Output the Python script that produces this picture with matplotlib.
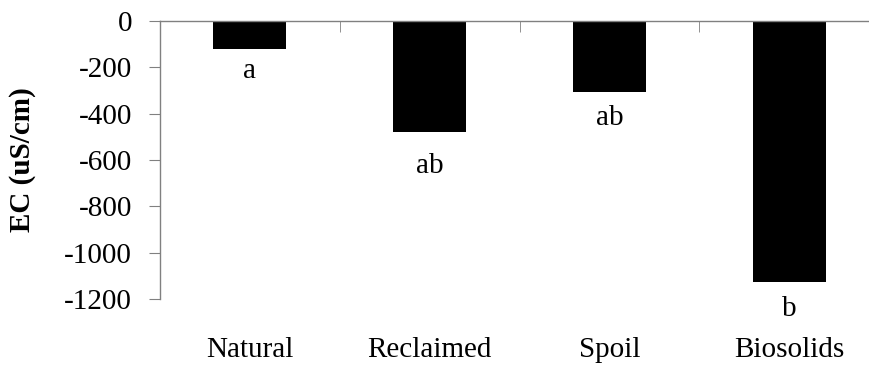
import matplotlib.pyplot as plt

sites = ["Natural", "Reclaimed", "Spoil", "Biosolids"]
ec_change = [-120, -480, -305, -1125]
groups = ["a", "ab", "ab", "b"]
y_ticks = [0, -200, -400, -600, -800, -1000, -1200]

# baseline drop (points) of each letter below its bar
letter_drop = [21, 29.5, 24, 25]

plt.rcParams['font.family'] = ['Liberation Serif', 'DejaVu Serif']
plt.rcParams['axes.unicode_minus'] = False

fig = plt.figure(figsize=(8.69, 3.68), dpi=100)
ax = fig.add_axes([160 / 869, 69 / 368, 719 / 869, 278 / 368])

x = range(len(sites))
ax.bar(x, ec_change, width=0.405, color='black')

# significance letters under each bar
for i, (v, g) in enumerate(zip(ec_change, groups)):
    ax.annotate(g, (i, v), xytext=(0, -letter_drop[i]), textcoords='offset points',
                ha='center', va='baseline', fontsize=21)

ax.set_xlim(-0.5, 3.5)
ax.set_ylim(-1200, 0)
ax.set_yticks(y_ticks)
ax.set_yticklabels([str(t) for t in y_ticks], fontsize=21)

ax.set_xticks(list(x))
ax.set_xticklabels(sites, fontsize=21)
ax.set_xticks([0.5, 1.5, 2.5], minor=True)
ax.tick_params(axis='x', which='major', length=0, pad=27.5)
ax.tick_params(axis='x', which='minor', bottom=False, top=True,
               direction='in', length=8, color='#808080')
ax.tick_params(axis='y', length=8, color='#808080', pad=12)

for side in ['right', 'bottom']:
    ax.spines[side].set_visible(False)
for side in ['left', 'top']:
    ax.spines[side].set_color('#808080')
    ax.spines[side].set_linewidth(1.0)

fig.text(22 / 869, 1 - 160 / 368, "EC (uS/cm)", rotation=90, ha='center',
         va='center', fontsize=21, fontweight='bold')

fig.savefig("out.png", dpi=100)
